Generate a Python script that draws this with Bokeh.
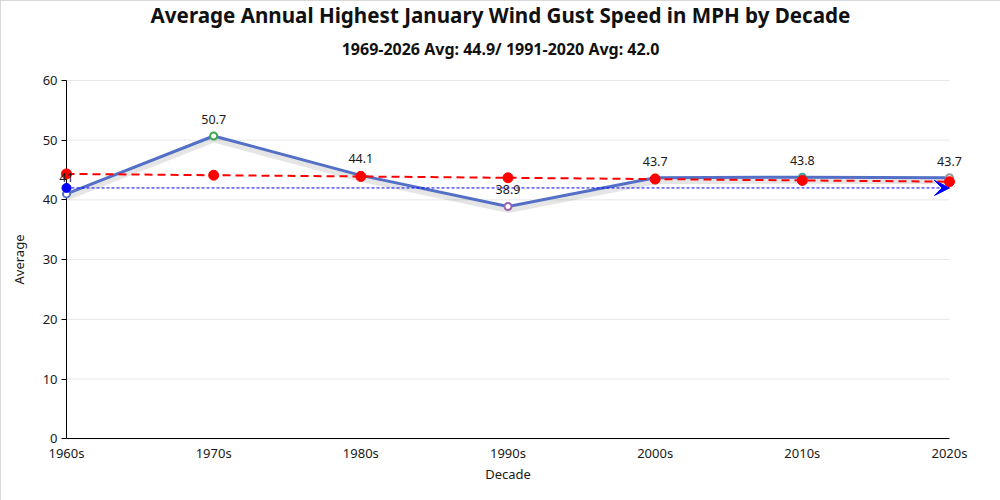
from bokeh.plotting import figure
from bokeh.models import (Range1d, FixedTicker, Title, ColumnDataSource, Arrow,
                          VeeHead, LabelSet)
from bokeh.core.properties import value
from bokeh.transform import dodge
from bokeh.embed import file_html
from bokeh.resources import INLINE

decades = ["1960s", "1970s", "1980s", "1990s", "2000s", "2010s", "2020s"]
averages = [41.0, 50.7, 44.1, 38.9, 43.7, 43.8, 43.7]
trend = [44.35, 44.13, 43.92, 43.70, 43.48, 43.26, 43.05]
normal_avg = 42.0
point_colors = ["#5470c6", "#3ba84a", "#ee6666", "#9a60b4", "#f5a623", "#3aa8a0", "#999999"]
y_ticks = [0, 10, 20, 30, 40, 50, 60]

FONT = "Noto Sans"
xs = list(range(len(decades)))
labels = [f"{v:g}" for v in averages]

src = ColumnDataSource(dict(x=xs, y=averages, trend=trend, lab=labels, col=point_colors))
grid_src = ColumnDataSource(dict(y=y_ticks, x0=[xs[0]] * len(y_ticks), x1=[xs[-1]] * len(y_ticks)))

# layout (pixels): the data area spans x 66..949, y 78..438; the frame is made larger
# (axes are pinned with fixed_location) so that nothing at the edges gets clipped.
W, H = 1000, 500
DL, DR, DT, DB = 66, 949, 78, 438
FL, FR, FT, FB = 5, 995, 66, 495
y_lo, y_hi = y_ticks[0], y_ticks[-1]
xpu = (DR - DL) / (xs[-1] - xs[0])
ypu = (DB - DT) / (y_hi - y_lo)
x_range = Range1d(xs[0] - (DL - FL) / xpu, xs[-1] + (FR - DR) / xpu)
y_range = Range1d(y_lo - (FB - DB) / ypu, y_hi + (DT - FT) / ypu)

p = figure(width=W, height=H, x_range=x_range, y_range=y_range,
           output_backend="svg", toolbar_location=None,
           min_border_left=FL, min_border_right=W - FR,
           min_border_top=FT, min_border_bottom=H - FB)
p.outline_line_color = None
p.background_fill_color = "white"
p.border_fill_color = "white"
p.styles = {"outline": "1px solid #cccccc", "outline-offset": "-1px"}

p.add_layout(Title(text="1969-2026 Avg: 44.9/ 1991-2020 Avg: 42.0", align="center",
                   text_font_size="16px", text_font_style="bold", text_font=FONT,
                   text_color="#111111", standoff=18), "above")
p.add_layout(Title(text="Average Annual Highest January Wind Gust Speed in MPH by Decade",
                   align="center", text_font_size="20.6px", text_font_style="bold",
                   text_font=FONT, text_color="#111111", standoff=-4), "above")

p.xgrid.visible = False
p.ygrid.visible = False
p.segment(x0="x0", x1="x1", y0="y", y1="y", source=grid_src, line_color="#e6e6e6",
          line_width=1, level="underlay")

p.xaxis.ticker = FixedTicker(ticks=xs)
p.xaxis.bounds = (xs[0], xs[-1])
p.xaxis.fixed_location = y_lo
p.xaxis.major_label_overrides = {i: d for i, d in enumerate(decades)}
p.xaxis.major_tick_line_color = None
p.xaxis.major_tick_out = 0
p.xaxis.major_tick_in = 0
p.xaxis.minor_tick_line_color = None
p.xaxis.axis_label = "Decade"
p.yaxis.ticker = FixedTicker(ticks=y_ticks)
p.yaxis.bounds = (y_lo, y_hi)
p.yaxis.fixed_location = xs[0]
p.yaxis.minor_tick_line_color = None
p.yaxis.major_tick_out = 5
p.yaxis.major_tick_in = 0
p.yaxis.axis_label = "Average"
p.yaxis.level = "underlay"
for ax in (p.xaxis, p.yaxis):
    ax.axis_line_color = "black"
    ax.major_label_text_font = FONT
    ax.major_label_text_font_size = "13px"
    ax.major_label_text_color = "#1a1a1a"
    ax.axis_label_text_font = FONT
    ax.axis_label_text_font_size = "13px"
    ax.axis_label_text_font_style = "normal"
    ax.axis_label_text_color = "#1a1a1a"
p.yaxis.major_tick_line_color = "black"
p.xaxis.major_label_standoff = 5
p.xaxis.axis_label_standoff = 0
p.yaxis.major_label_standoff = 4
p.yaxis.axis_label_standoff = 12

# shadow of the main line
p.line(x="x", y=dodge("y", -0.5, range=p.y_range), source=src, line_color="black",
       line_alpha=0.10, line_width=7)
p.line(x="x", y="y", source=src, line_color="#5470c6", line_width=3)
p.scatter(x="x", y="y", source=src, size=7, fill_color="white", line_color="col",
          line_width=2)

# trend line
p.line(x="x", y="trend", source=src, line_color="red", line_width=2, line_dash="8 5")
p.scatter(x="x", y="trend", source=src, size=10, fill_color="red", line_color="red")

# 1991-2020 normal
p.add_layout(Arrow(end=VeeHead(size=15, fill_color="blue", line_color="blue"),
                   x_start=xs[0], y_start=normal_avg, x_end=xs[-1], y_end=normal_avg,
                   line_color="blue", line_width=1, line_dash="3 2"))
p.scatter(x=[xs[0]], y=[normal_avg], size=9, fill_color="blue", line_color="blue")

p.add_layout(LabelSet(x="x", y="y", text="lab", source=src, y_offset=12,
                      text_align="center", text_baseline="bottom",
                      text_font=value(FONT), text_font_size="12.5px", text_color="#1a1a1a"))

open("out.html", "w").write(file_html(p, INLINE))
